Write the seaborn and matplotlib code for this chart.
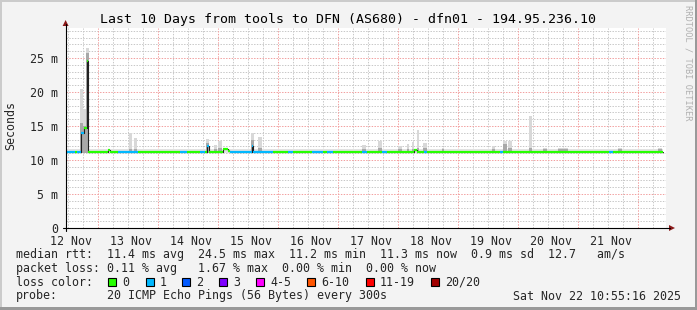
import numpy as np
import pandas as pd
import seaborn as sns
import matplotlib
matplotlib.use("Agg")
import matplotlib.pyplot as plt
from matplotlib.patches import Rectangle, Polygon
from matplotlib.lines import Line2D
from matplotlib.transforms import ScaledTranslation

# ---------------- data ----------------
start_time = pd.Timestamp("2025-11-12 10:55:16")
span_hours = 240.0

# median rtt step segments (hours since start, ms, loss count index)
seg_start_h = [0.0, 3.6, 4.6, 6.3, 7.4, 8.4, 9.0, 17.0, 17.8, 21.0, 29.0, 45.8, 48.6,
               53.8, 55.8, 56.6, 57.4, 63.0, 65.0, 65.8, 74.4, 75.0, 83.0, 89.0, 91.0,
               98.6, 103.0, 104.6, 107.0, 118.6, 120.6, 126.6, 128.6, 139.4, 140.6,
               143.4, 144.6, 173.8, 175.0, 217.4, 219.0]
seg_median_ms = [11.25, 11.25, 11.25, 14.0, 14.7, 24.5, 11.25, 11.45, 11.25, 11.2, 11.25,
                 11.2, 11.25, 11.2, 11.25, 12.0, 11.25, 11.6, 11.3, 11.2, 12.0, 11.2,
                 11.25, 11.2, 11.25, 11.2, 11.25, 11.2, 11.25, 11.2, 11.25, 11.2, 11.25,
                 11.5, 11.25, 11.2, 11.25, 11.2, 11.25, 11.2, 11.25]
seg_loss_idx = [1, 0, 1, 1, 0, 0, 0, 0, 0, 1, 0, 1, 0, 1, 0, 1, 0, 0, 0, 1, 1, 1, 0, 1, 0,
                1, 0, 1, 0, 1, 0, 1, 0, 0, 0, 1, 0, 1, 0, 1, 0]
last_sample_h = 239.0

# smoke (spread of the 20 pings): start/end hours, outer top, darker core top
smoke_start_h = [5.8, 7.0, 8.2, 25.4, 27.4, 56.2, 59.4, 61.0, 74.2, 77.0, 118.6, 125.0,
                 133.0, 136.4, 138.4, 140.4, 142.8, 150.4, 170.6, 175.0, 177.0, 185.4,
                 191.0, 197.0, 221.0, 237.0]
smoke_end_h = [7.0, 8.2, 9.2, 26.6, 28.6, 57.4, 60.6, 62.6, 75.4, 78.6, 120.2, 126.6,
               134.6, 137.2, 139.2, 141.2, 144.4, 151.2, 171.8, 176.6, 178.6, 186.6,
               192.6, 201.0, 222.6, 238.6]
smoke_top_ms = [20.5, 17.5, 26.5, 14.0, 13.3, 13.1, 12.2, 12.8, 13.9, 13.4, 12.2, 12.8,
                12.1, 12.3, 12.6, 14.4, 12.5, 11.8, 12.1, 12.8, 12.8, 16.5, 11.7, 11.7,
                11.7, 11.8]
smoke_core_ms = [15.5, 15.0, 25.8, 11.6, 11.6, 12.5, 11.6, 11.8, 12.9, 11.8, 11.6, 11.8,
                 11.6, 11.6, 11.6, 11.8, 11.8, 11.6, 11.6, 12.3, 11.8, 11.8, 11.6, 11.6,
                 11.6, 11.6]
smoke_base_ms = 11.1
band_h = [0.0, 239.0]
band_top_ms = [11.65, 11.65]

loss_labels = ["0", "1", "2", "3", "4-5", "6-10", "11-19", "20/20"]
loss_colors = ["#26ff00", "#00b8ff", "#0059ff", "#7e00ff", "#ff00ff", "#ff5500",
               "#ff0000", "#a10000"]

y_ticks = [0, 5, 10, 15, 20, 25]
y_tick_labels = ["0", "5 m", "10 m", "15 m", "20 m", "25 m"]
day_numbers = [12, 13, 14, 15, 16, 17, 18, 19, 20, 21]
day_labels = [f"{d} Nov" for d in day_numbers]

title = "Last 10 Days from tools to DFN (AS680) - dfn01 - 194.95.236.10"
rtt_stats = "11.4 ms avg  24.5 ms max  11.2 ms min  11.3 ms now  0.9 ms sd  12.7   am/s"
loss_stats = "0.11 % avg   1.67 % max  0.00 % min  0.00 % now"
probe_text = "20 ICMP Echo Pings (56 Bytes) every 300s"
stamp_text = "Sat Nov 22 10:55:16 2025"

# ---------------- figure ----------------
sns.set_style("white")
plt.rcParams["font.family"] = ["DejaVu Sans Mono", "DejaVu Sans"]

W, H = 697, 310
fig = plt.figure(figsize=(W / 100, H / 100), dpi=100)
fig.patch.set_facecolor("#f3f3f3")


def fx(x):
    return x / W


def fy(y):
    return 1 - y / H


L, R, T, B = 65.6, 665.6, 28.0, 228.0
ax = fig.add_axes([fx(L), fy(B), (R - L) / W, (B - T) / H])
ax.set_facecolor("white")
ymax = (B - T) / 6.8
ax.set_xlim(0, span_hours)
ax.set_ylim(0, ymax)
for s in ax.spines.values():
    s.set_visible(False)

# grid
gray = "#c8c8c8"
red = "#f2a0a0"
dots = (0, (1.4, 1.4))
for v in range(1, int(ymax) + 1):
    if v % 5:
        ax.axhline(v, color=gray, lw=0.72, ls=dots, zorder=0.5)
mid0 = (pd.Timestamp("2025-11-13") - start_time) / pd.Timedelta(hours=1)
h = mid0 - 24
while h < span_hours:
    for k in (6, 12, 18):
        if 0 < h + k < span_hours:
            ax.axvline(h + k, color=gray, lw=0.72, ls=dots, zorder=0.5)
    h += 24
for v in y_ticks[1:]:
    ax.axhline(v, color=red, lw=0.72, ls=dots, zorder=0.6)
h = mid0
while h < span_hours:
    ax.axvline(h, color=red, lw=0.72, ls=dots, zorder=0.6)
    h += 24

# smoke
ax.fill_between(band_h, smoke_base_ms, band_top_ms, color="#e2e2e2", lw=0, zorder=1)
s_start = np.array(smoke_start_h)
s_w = np.array(smoke_end_h) - s_start
ax.bar(s_start, np.array(smoke_top_ms) - smoke_base_ms, bottom=smoke_base_ms, width=s_w,
       align="edge", color="#d8d8d8", lw=0, zorder=1.1)
ax.bar(s_start, np.array(smoke_core_ms) - smoke_base_ms, bottom=smoke_base_ms, width=s_w,
       align="edge", color="#a8a8a8", lw=0, zorder=1.2)

# median (black step line) via seaborn
ends = seg_start_h[1:] + [last_sample_h]
df = pd.DataFrame({"h": seg_start_h + [last_sample_h],
                   "ms": seg_median_ms + [seg_median_ms[-1]]})
sns.lineplot(data=df, x="h", y="ms", drawstyle="steps-post", color="#202020",
             lw=0.8, ax=ax, estimator=None, zorder=2)
# loss coloured segments
ax.hlines(seg_median_ms, seg_start_h, ends,
          colors=[loss_colors[i] for i in seg_loss_idx], lw=1.6, zorder=3)

ax.set_xlabel("")
ax.set_ylabel("")
noon_h = [(pd.Timestamp(2025, 11, d, 12) - start_time) / pd.Timedelta(hours=1)
          for d in day_numbers]
ax.set_xticks(noon_h)
ax.set_xticklabels(day_labels, fontsize=8.4)
ax.tick_params(axis="x", length=0, pad=5)
shift = ScaledTranslation(3 / 100, 0, fig.dpi_scale_trans)
for lab in ax.get_xticklabels():
    lab.set_transform(lab.get_transform() + shift)
ax.set_yticks(y_ticks)
ax.set_yticklabels(y_tick_labels, fontsize=8.4)
ax.tick_params(axis="y", length=2, color="#e07070", width=0.72, pad=3.3)

# axes lines with arrows
fig.add_artist(Line2D([fx(L), fx(L)], [fy(B + 3), fy(24)], color="black", lw=0.8))
fig.add_artist(Polygon([(fx(L - 3), fy(26)), (fx(L + 3), fy(26)), (fx(L), fy(20))],
                       closed=True, color="#8b1a1a", lw=0))
fig.add_artist(Line2D([fx(L - 3), fx(670)], [fy(B), fy(B)], color="black", lw=0.8))
fig.add_artist(Polygon([(fx(669), fy(B - 3)), (fx(669), fy(B + 3)), (fx(675), fy(B))],
                       closed=True, color="#8b1a1a", lw=0))

# texts
fig.text(fx(348), fy(19), title, ha="center", va="center", fontsize=9.5, color="#000000")
fig.text(fx(11), fy(126), "Seconds", rotation=90, ha="center", va="center", fontsize=8.4)
fig.text(fx(688), fy(5), "RRDTOOL / TOBI OETIKER", rotation=-90, ha="center", va="top",
         fontsize=6.2, color="#b0b0b0")

rows = [254.5, 268.3, 282.2, 296.0]
fs = 8.4
fig.text(fx(16), fy(rows[0]), "median rtt:", va="center", fontsize=fs)
fig.text(fx(107), fy(rows[0]), rtt_stats, va="center", fontsize=fs)
fig.text(fx(16), fy(rows[1]), "packet loss:", va="center", fontsize=fs)
fig.text(fx(107), fy(rows[1]), loss_stats, va="center", fontsize=fs)
fig.text(fx(16), fy(rows[2]), "loss color:", va="center", fontsize=fs)
box_x = [108, 146, 182, 219, 256, 307, 366, 431]
for bx, lab, col in zip(box_x, loss_labels, loss_colors):
    fig.add_artist(Rectangle((fx(bx), fy(rows[2] + 4)), 8 / W, 8 / H, facecolor=col,
                             edgecolor="black", lw=0.8))
    fig.text(fx(bx + 14), fy(rows[2]), lab, va="center", fontsize=fs)
fig.text(fx(16), fy(rows[3]), "probe:", va="center", fontsize=fs)
fig.text(fx(107), fy(rows[3]), probe_text, va="center", fontsize=fs)
fig.text(fx(681), fy(rows[3]), stamp_text, va="center", ha="right", fontsize=fs)

# frame shading
fig.add_artist(Rectangle((0, fy(2)), 1, 2 / H, color="#cbcbcb", lw=0))
fig.add_artist(Rectangle((0, 0), 2 / W, 1, color="#cbcbcb", lw=0))
fig.add_artist(Rectangle((fx(695), 0), 2 / W, 1, color="#999999", lw=0))
fig.add_artist(Rectangle((0, 0), 1, 3 / H, color="#999999", lw=0))

fig.savefig("out.png", dpi=100, facecolor=fig.get_facecolor())
